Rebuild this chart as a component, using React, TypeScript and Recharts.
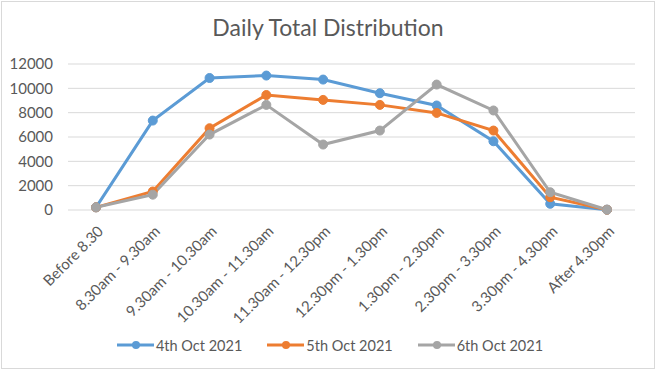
import React from "react";
import { LineChart, Line, XAxis, YAxis, CartesianGrid, Legend } from "recharts";

// time slots on the x axis
const SLOTS = [
  "Before 8.30",
  "8.30am - 9.30am",
  "9.30am - 10.30am",
  "10.30am - 11.30am",
  "11.30am - 12.30pm",
  "12.30pm - 1.30pm",
  "1.30pm - 2.30pm",
  "2.30pm - 3.30pm",
  "3.30pm - 4.30pm",
  "After 4.30pm",
];

const OCT4 = [220, 7350, 10850, 11050, 10720, 9600, 8590, 5650, 510, 30];
const OCT5 = [220, 1520, 6720, 9450, 9050, 8640, 7980, 6530, 1050, 20];
const OCT6 = [220, 1260, 6200, 8640, 5380, 6530, 10310, 8180, 1460, 20];

const Y_TICKS = [0, 2000, 4000, 6000, 8000, 10000, 12000];

const SERIES = [
  { key: "oct4", name: "4th Oct 2021", color: "#5b9bd5" },
  { key: "oct5", name: "5th Oct 2021", color: "#ed7d31" },
  { key: "oct6", name: "6th Oct 2021", color: "#a5a5a5" },
];

const FONT = "Lato, 'Open Sans', sans-serif";
const TEXT = "#595959";

const rows = SLOTS.map((slot, i) => ({
  slot,
  oct4: OCT4[i],
  oct5: OCT5[i],
  oct6: OCT6[i],
}));

const SlotTick = (props: any) => {
  const { x, y, payload } = props;
  const ax = x + 4;
  const ay = y + 10;
  return (
    <text
      x={ax}
      y={ay}
      transform={`rotate(-45, ${ax}, ${ay})`}
      textAnchor="end"
      dominantBaseline="central"
      fill={TEXT}
      fontSize={15}
      fontFamily={FONT}
    >
      {payload.value}
    </text>
  );
};

const LegendRow = () => (
  <div
    style={{
      height: 40,
      display: "flex",
      justifyContent: "center",
      alignItems: "flex-start",
      paddingTop: 5,
      paddingLeft: 25,
      boxSizing: "border-box",
      gap: 25,
      fontFamily: FONT,
      fontSize: 14.5,
      color: TEXT,
    }}
  >
    {SERIES.map((s) => (
      <div key={s.key} style={{ display: "flex", alignItems: "center", height: 20 }}>
        <svg width={37} height={12}>
          <line x1={0} y1={6} x2={37} y2={6} stroke={s.color} strokeWidth={3} />
          <circle cx={19} cy={6} r={4} fill={s.color} />
        </svg>
        <span style={{ marginLeft: 2 }}>{s.name}</span>
      </div>
    ))}
  </div>
);

export default function App() {
  return (
    <div
      style={{
        position: "absolute",
        left: 0,
        top: 0,
        width: 656,
        height: 370,
        background: "#fff",
      }}
    >
      <div
        style={{
          position: "absolute",
          left: 1,
          top: 1,
          width: 654,
          height: 368,
          border: "1px solid #d9d9d9",
          boxSizing: "border-box",
        }}
      />
      <div
        style={{
          position: "absolute",
          top: 13,
          left: 0,
          width: 656,
          textAlign: "center",
          fontFamily: FONT,
          fontSize: 23,
          color: TEXT,
        }}
      >
        Daily Total Distribution
      </div>
      <div style={{ position: "absolute", left: 0, top: 0 }}>
        <LineChart
          width={656}
          height={370}
          data={rows}
          margin={{ top: 64, right: 21, bottom: 0, left: 0 }}
        >
          <CartesianGrid vertical={false} stroke="#d9d9d9" strokeWidth={1} />
          <XAxis
            dataKey="slot"
            interval={0}
            tick={<SlotTick />}
            tickLine={false}
            axisLine={false}
            padding={{ left: 28, right: 28 }}
            height={120}
          />
          <YAxis
            domain={[0, 12000]}
            ticks={Y_TICKS}
            width={68}
            tickLine={false}
            axisLine={false}
            tick={{ fill: TEXT, fontSize: 15, fontFamily: FONT }}
            tickMargin={9}
          />
          <Legend verticalAlign="bottom" content={<LegendRow />} />
          {SERIES.map((s) => (
            <Line
              key={s.key}
              dataKey={s.key}
              name={s.name}
              stroke={s.color}
              strokeWidth={3}
              dot={{ r: 4.5, fill: s.color, stroke: s.color, strokeWidth: 1 }}
              activeDot={false}
              isAnimationActive={false}
            />
          ))}
        </LineChart>
      </div>
    </div>
  );
}
